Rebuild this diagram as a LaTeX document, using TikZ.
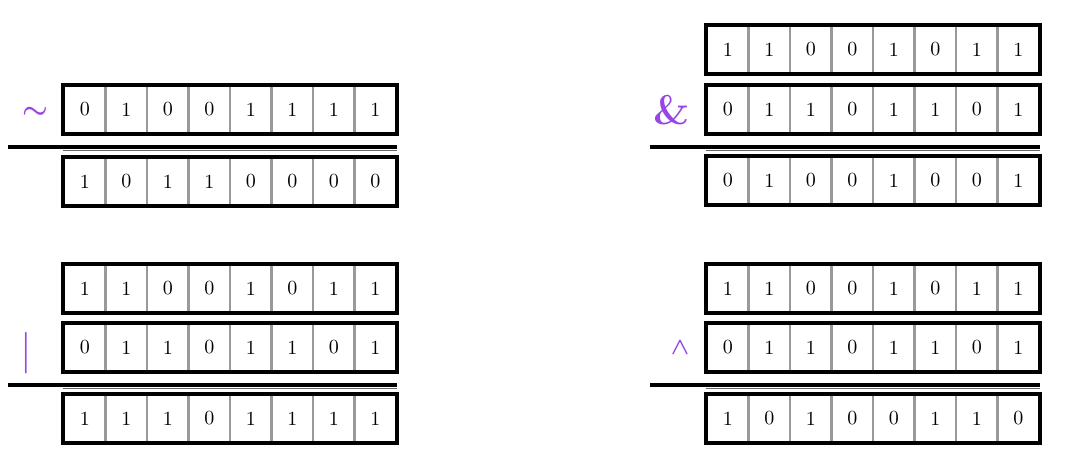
\documentclass[tikz,border=0pt]{standalone}
\usepackage{amsmath}
\usepackage{tikz}
\usetikzlibrary{calc, positioning}
\definecolor{oppurple}{RGB}{150,70,230}
\tikzset{
    cell/.style ={rectangle, draw=black!40, line width=1.4pt, minimum width=20.75pt,
                  minimum height=23.5pt, inner sep=0pt, font=\normalsize},
    regframe/.style ={draw=black, line width=2pt},
    op/.style ={text=oppurple, inner sep=0pt},
    rule/.style ={draw=black, line width=2pt},
    subrule/.style ={draw=black!60, line width=0.7pt}
    }

\begin{document}
\begin{tikzpicture}[x=0.5pt, y=-0.5pt]
    \useasboundingbox (0,0) rectangle (1077,472);

    % registers: name / left / top / bits
    \foreach \name/\x/\y/\bits in {
        nota/64/86/{0,1,0,0,1,1,1,1},
        notr/64/158/{1,0,1,1,0,0,0,0},
        anda/707/26/{1,1,0,0,1,0,1,1},
        andb/707/86/{0,1,1,0,1,1,0,1},
        andr/707/157/{0,1,0,0,1,0,0,1},
        ora/64/265/{1,1,0,0,1,0,1,1},
        orb/64/324/{0,1,1,0,1,1,0,1},
        orr/64/395/{1,1,1,0,1,1,1,1},
        xora/707/265/{1,1,0,0,1,0,1,1},
        xorb/707/324/{0,1,1,0,1,1,0,1},
        xorr/707/395/{1,0,1,0,0,1,1,0}} {
        \foreach \b [count=\i] in \bits {
            \node[cell] (\name-\i) at ({\x+(\i-0.5)*41.5}, {\y+23.5}) {\b};
        }
        \draw[regframe] (\name-1.north west) rectangle (\name-8.south east);
    }

    % operators
    \node[op, font=\Large] (notop) at (35,113) {$\boldsymbol{\sim}$};
    \node[op, font=\huge\bfseries] (andop) at (672,110) {\&};
    \node[op, font=\huge] (orop) at (26,353) {$|$};
    \node[op, font=\large] (xorop) at (680,348) {$\boldsymbol{\wedge}$};

    % result bars
    \coordinate (notbar) at (8,147);
    \coordinate (andbar) at (650,147);
    \coordinate (orbar) at (8,385);
    \coordinate (xorbar) at (650,385);

    \draw[rule] (notbar) -- (notbar -| notr-8.east);
    \draw[rule] (andbar) -- (andbar -| andr-8.east);
    \draw[rule] (orbar) -- (orbar -| orr-8.east);
    \draw[rule] (xorbar) -- (xorbar -| xorr-8.east);

    \draw[subrule] ($(notbar -| notr-1.west)+(0,3.5)$) -- ($(notbar -| notr-8.east)+(0,3.5)$);
    \draw[subrule] ($(andbar -| andr-1.west)+(0,3.5)$) -- ($(andbar -| andr-8.east)+(0,3.5)$);
    \draw[subrule] ($(orbar -| orr-1.west)+(0,3.5)$) -- ($(orbar -| orr-8.east)+(0,3.5)$);
    \draw[subrule] ($(xorbar -| xorr-1.west)+(0,3.5)$) -- ($(xorbar -| xorr-8.east)+(0,3.5)$);

\end{tikzpicture}
\end{document}
